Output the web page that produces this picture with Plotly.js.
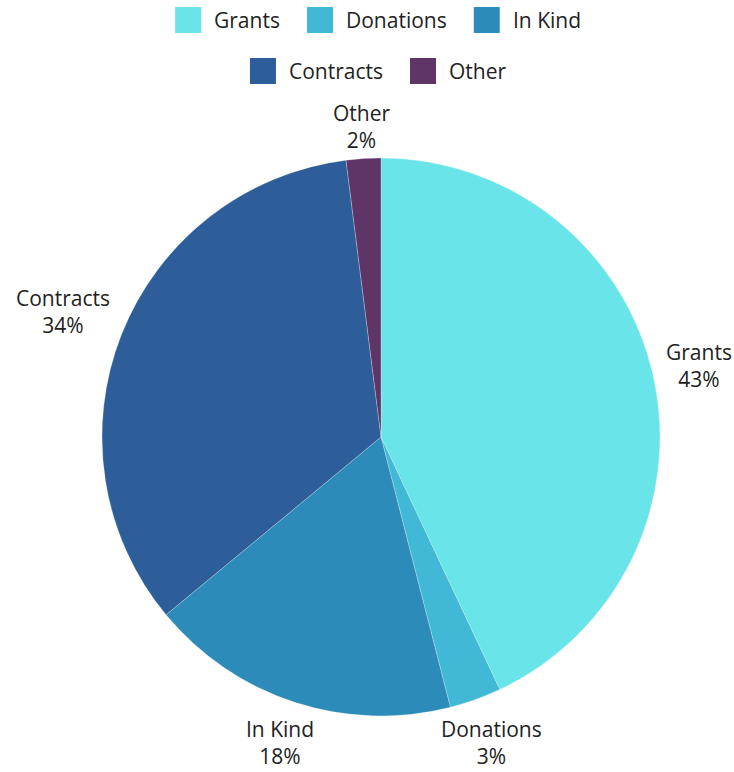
<!DOCTYPE html>
<html>
<head>
<meta charset="utf-8">
<script src="https://cdn.plot.ly/plotly-3.0.1.min.js"></script>
<style>html,body{margin:0;padding:0;background:#fff;}#chart{width:734px;height:772px;}</style>
</head>
<body>
<div id="chart"></div>
<script>
var categories = ["Grants", "Donations", "In Kind", "Contracts", "Other"];
var values = [43, 3, 18, 34, 2];
var colors = ["#69e4e8", "#40b8d6", "#2d8bba", "#2e5e99", "#5e3566"];
var legendRows = [[0, 1, 2], [3, 4]];

var W = 734, H = 772;
var FONTNAME = "Open Sans";
var FONT = "'Open Sans', Lato, sans-serif";
var TEXTCOL = "#222222";
var FS = 21;

var cx = 381, cy = 437, r = 279;

var ctx = document.createElement("canvas").getContext("2d");
ctx.font = FS + "px '" + FONTNAME + "'";
function tw(s) { return ctx.measureText(s).width; }

var shapes = [], annotations = [];

// custom legend (large squares)
var sq = 26, gapSqText = 11, gapItem = 29, rowCenter = 377;
var rowY = [20, 71];
legendRows.forEach(function (row, ri) {
  var total = 0;
  row.forEach(function (idx, k) {
    total += sq + gapSqText + tw(categories[idx]);
    if (k < row.length - 1) total += gapItem;
  });
  var x = rowCenter - total / 2;
  var y = rowY[ri];
  row.forEach(function (idx) {
    shapes.push({
      type: "rect", xref: "paper", yref: "paper",
      x0: x / W, x1: (x + sq) / W,
      y0: 1 - (y - sq / 2) / H, y1: 1 - (y + sq / 2) / H,
      fillcolor: colors[idx], line: { width: 0 }
    });
    annotations.push({
      xref: "paper", yref: "paper", x: (x + sq + gapSqText) / W, y: 1 - y / H,
      xanchor: "left", yanchor: "middle", showarrow: false,
      text: categories[idx], font: { family: FONT, size: FS, color: TEXTCOL }
    });
    x += sq + gapSqText + tw(categories[idx]) + gapItem;
  });
});

// outside slice labels placed radially
var total = values.reduce(function (a, b) { return a + b; }, 0);
var cum = 0, halfH = 24, halfBox = 1.3 * FS + 1.5;
values.forEach(function (v, i) {
  var mid = (cum + v / 2) / total * 2 * Math.PI;
  cum += v;
  var s = Math.sin(mid), c = Math.cos(mid);
  var pct = Math.round(v / total * 100) + "%";
  var hw = Math.max(tw(categories[i]), tw(pct)) / 2;
  var ext = Math.min(Math.abs(s) > 1e-6 ? hw / Math.abs(s) : 1e9, Math.abs(c) > 1e-6 ? halfH / Math.abs(c) : 1e9);
  var d = (r + 15 - 7 * c) + ext;
  var px = cx + d * s, py = cy - d * c;
  py = Math.min(py, H - 1 - halfBox);
  annotations.push({
    xref: "paper", yref: "paper", x: px / W, y: 1 - py / H,
    xanchor: "center", yanchor: "middle", align: "center", showarrow: false,
    text: categories[i] + "<br>" + pct,
    font: { family: FONT, size: FS, color: TEXTCOL }
  });
});

var trace = {
  type: "pie",
  labels: categories,
  values: values,
  sort: false,
  direction: "clockwise",
  rotation: 0,
  marker: { colors: colors, line: { color: "rgba(255,255,255,0.5)", width: 0.5 } },
  textinfo: "none",
  hoverinfo: "label+percent",
  showlegend: false,
  automargin: false,
  domain: { x: [(cx - r) / W, (cx + r) / W], y: [1 - (cy + r) / H, 1 - (cy - r) / H] }
};

var layout = {
  width: W, height: H,
  margin: { l: 0, r: 0, t: 0, b: 0 },
  paper_bgcolor: "#ffffff",
  showlegend: false,
  font: { family: FONT, size: FS, color: TEXTCOL },
  shapes: shapes,
  annotations: annotations
};

Plotly.newPlot("chart", [trace], layout, { displayModeBar: false, staticPlot: true });
</script>
</body>
</html>
